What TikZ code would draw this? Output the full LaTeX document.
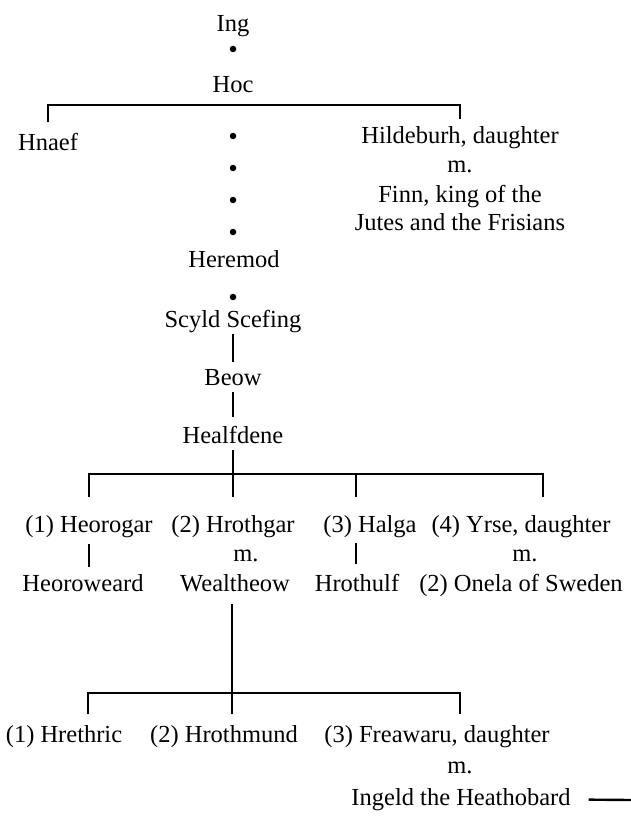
\documentclass[tikz,border=0pt]{standalone}
\usepackage{fontspec}
\setmainfont{Liberation Serif}

\begin{document}
\begin{tikzpicture}[x=1pt,y=-1pt,line width=2.4pt]

        \useasboundingbox (0,0) rectangle (631,824);

        \begin{scope}[every node/.style={anchor=base, inner sep=0pt, text height=17pt, text depth=6pt, font=\fontsize{24.5}{29}\selectfont}]
          \node (ing)        at (233,32)  {Ing};
          \node (hoc)        at (233,93)  {Hoc};
          \node (hnaef)      at (48,150)  {Hnaef};
          \node (hildeburh)  at (460,143) {Hildeburh, daughter};
          \node (hm)         at (460,172) {m.};
          \node (finn)       at (460,202) {Finn, king of the};
          \node (jutes)      at (460,230) {Jutes and the Frisians};
          \node (heremod)    at (234,267) {Heremod};
          \node (scyld)      at (233,327) {Scyld Scefing};
          \node (beow)       at (233,385) {Beow};
          \node (healfdene)  at (233,443) {Healfdene};
          \node (heorogar)   at (89,532)  {(1) Heorogar};
          \node (hrothgar)   at (233,532) {(2) Hrothgar};
          \node (halga)      at (370,532) {(3) Halga};
          \node (yrse)       at (521,532) {(4) Yrse, daughter};
          \node (hrm)        at (246,561) {m.};
          \node (ym)         at (525,561) {m.};
          \node (heoroweard) at (83,591)  {Heoroweard};
          \node (wealtheow)  at (235,591) {Wealtheow};
          \node (hrothulf)   at (357,591) {Hrothulf};
          \node (onela)      at (521,591) {(2) Onela of Sweden};
          \node (hrethric)   at (64,742)  {(1) Hrethric};
          \node (hrothmund)  at (224,742) {(2) Hrothmund};
          \node (freawaru)   at (437,742) {(3) Freawaru, daughter};
          \node (fm)         at (460,773) {m.};
          \node (ingeld)     at (461,805) {Ingeld the Heathobard};
        \end{scope}

        \begin{scope}[every node/.style={circle, fill, inner sep=0pt, minimum size=6.5pt}]
          \node (d0) at (233,49)  {};
          \node (d1) at (233,136) {};
          \node (d2) at (233,168) {};
          \node (d3) at (233,200) {};
          \node (d4) at (233,232) {};
          \node (d5) at (233,297) {};
        \end{scope}

        \coordinate (hocbar)    at (233,105);
        \coordinate (hfbar)     at (233,474);
        \coordinate (tbar)      at (232,693);
        \coordinate (ingeldout) at (631,800);

        % family bars
        \draw[shorten <=10pt, shorten >=6pt] (hnaef.north) |- (hocbar) -| (hildeburh.north);
        \draw[shorten <=17pt, shorten >=17pt] (heorogar.north) |- (hfbar) -| ([xshift=22pt]yrse.north);
        \draw[shorten >=17pt] ([xshift=-14pt]halga.north |- hfbar) -- ([xshift=-14pt]halga.north);
        \draw[shorten <=10pt, shorten >=10pt] ([xshift=24pt]hrethric.north) |- (tbar) -| ([xshift=23pt]freawaru.north);

        \begin{scope}[every edge/.style={draw}]
          \path (scyld.south) edge[shorten >=5pt] (beow.north);
          \path (beow.south) edge[shorten >=8pt] (healfdene.north);
          \path (healfdene.south) edge[shorten >=17pt] (hrothgar.north);
          \path (heorogar.south) edge[shorten <=5pt, shorten >=6pt] (heorogar.south |- heoroweard.north);
          \path ([xshift=-14pt]halga.south) edge[shorten <=4pt, shorten >=9pt] ([xshift=-14pt]halga.south |- hrothulf.north);
          \path (tbar |- wealtheow.south) edge[shorten <=6pt, shorten >=10pt] (tbar |- hrothmund.north);
          \path (ingeld.east) edge[shorten <=17pt] (ingeldout);
        \end{scope}

      \end{tikzpicture}
\end{document}
